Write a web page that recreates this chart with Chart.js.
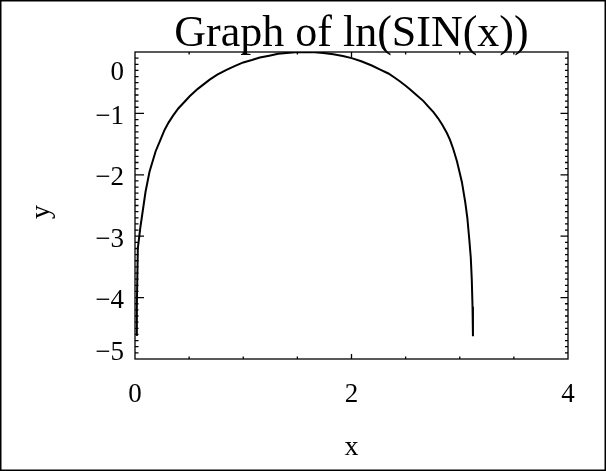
<!DOCTYPE html>
<html>
<head>
<meta charset="utf-8">
<title>Graph of ln(SIN(x))</title>
<script src="https://cdn.jsdelivr.net/npm/chart.js@4.4.0/dist/chart.umd.min.js"></script>
<style>
  html, body { margin: 0; padding: 0; background: #fff; }
  canvas { display: block; }
</style>
</head>
<body>
<canvas id="myChart" width="606" height="471"></canvas>
<script>
// Curve points
var xValues = [0.01, 0.017, 0.026, 0.05, 0.097, 0.134, 0.19, 0.23, 0.273, 0.31, 0.35, 0.40,
    0.458, 0.505, 0.58, 0.69, 0.76, 0.845, 0.92, 1.0, 1.08, 1.153, 1.24, 1.322, 1.40, 1.48,
    1.57, 1.66, 1.74, 1.832, 1.92, 2.002, 2.09, 2.187, 2.27, 2.341, 2.40, 2.449, 2.50, 2.542,
    2.60, 2.665, 2.71, 2.757, 2.80, 2.84, 2.881, 2.91, 2.94, 2.974, 3.00, 3.02, 3.051, 3.07,
    3.088, 3.102, 3.111, 3.118, 3.122];
var yValues = [-4.61, -4.15, -3.20, -2.85, -2.28, -1.95, -1.62, -1.45, -1.27, -1.15, -1.04, -0.92,
    -0.81, -0.72, -0.60, -0.45, -0.37, -0.29, -0.23, -0.17, -0.13, -0.09, -0.06, -0.03, -0.015, -0.004,
    0.0, -0.004, -0.015, -0.035, -0.065, -0.10, -0.15, -0.22, -0.29, -0.35, -0.42, -0.48, -0.55, -0.61,
    -0.70, -0.80, -0.89, -0.98, -1.08, -1.19, -1.32, -1.43, -1.58, -1.78, -1.97, -2.12, -2.45, -2.70,
    -3.05, -3.35, -3.70, -4.15, -4.63];

var xTickLabels = [0, 2, 4];
var yTickLabels = [0, -1, -2, -3, -4, -5];

var chartTitle = 'Graph of ln(SIN(x))';
var xAxisTitle = 'x';
var yAxisTitle = 'y';

var serif = '"Liberation Serif", "DejaVu Serif", serif';

// IDL style box: frame, inward ticks, y labels, titles and outer border
var idlFrame = {
    id: 'idlFrame',
    afterDraw: function(chart) {
        var ctx = chart.ctx;
        var area = chart.chartArea;
        var xs = chart.scales.x;
        var ys = chart.scales.y;
        var i, p, len;

        ctx.save();
        ctx.strokeStyle = '#000';
        ctx.fillStyle = '#000';

        // plot frame
        ctx.lineWidth = 1.3;
        ctx.strokeRect(area.left, area.top, area.right - area.left, area.bottom - area.top);

        // y ticks every 0.1, long ones on whole numbers
        ctx.beginPath();
        for (i = 1; i < 50; i++) {
            p = ys.getPixelForValue(-5 + i / 10);
            var major = (i % 10 === 0);
            len = major ? 9 : 3.5;
            ctx.moveTo(area.left, p);
            ctx.lineTo(area.left + len, p);
            len = major ? 7.5 : 3;
            ctx.moveTo(area.right, p);
            ctx.lineTo(area.right - len, p);
        }
        // x ticks every 0.5, long one on labelled values
        for (i = 1; i < 8; i++) {
            var v = i * 0.5;
            p = xs.getPixelForValue(v);
            len = xTickLabels.indexOf(v) >= 0 ? 5 : 2.5;
            ctx.moveTo(p, area.bottom);
            ctx.lineTo(p, area.bottom - len);
            ctx.moveTo(p, area.top);
            ctx.lineTo(p, area.top + len);
        }
        ctx.stroke();

        // y labels, kept inside the box like the reference
        ctx.font = '27px ' + serif;
        ctx.textAlign = 'right';
        ctx.textBaseline = 'alphabetic';
        yTickLabels.forEach(function(v) {
            var py = ys.getPixelForValue(v);
            py = Math.min(Math.max(py, area.top + 17), area.bottom - 10) + 1.5;
            var txt = v < 0 ? '\u2212' + Math.abs(v) : String(v);
            ctx.fillText(txt, 124, py + 9);
        });

        // title
        ctx.textAlign = 'center';
        ctx.font = '44px ' + serif;
        ctx.fillText(chartTitle, (area.left + area.right) / 2, 46);

        // axis titles
        ctx.font = '28px ' + serif;
        ctx.fillText(xAxisTitle, (area.left + area.right) / 2, 455);
        ctx.save();
        ctx.translate(49, 212);
        ctx.rotate(-Math.PI / 2);
        ctx.fillText(yAxisTitle, 0, 0);
        ctx.restore();

        // outer border of the picture
        ctx.lineWidth = 1.5;
        ctx.strokeRect(0.75, 0.75, chart.width - 1.5, chart.height - 1.5);
        ctx.restore();
    }
};

function drawChart() {
    var points = [];
    for (var i = 0; i < xValues.length; i++) {
        points.push({x: xValues[i], y: yValues[i]});
    }

    var ctx = document.getElementById('myChart').getContext('2d');
    var myChart = new Chart(ctx, {
        type: 'line',
        data: {
            datasets: [{
                data: points,
                borderColor: '#000',
                borderWidth: 2,
                pointRadius: 0,
                fill: false,
                tension: 0
            }]
        },
        options: {
            responsive: false,
            animation: false,
            devicePixelRatio: 1,
            layout: {
                padding: {left: 135, right: 38, top: 52, bottom: 0}
            },
            plugins: {
                legend: {display: false},
                tooltip: {enabled: false},
                title: {display: false}
            },
            scales: {
                x: {
                    type: 'linear',
                    min: 0,
                    max: 4,
                    afterBuildTicks: function(scale) {
                        scale.ticks = xTickLabels.map(function(v) { return {value: v}; });
                    },
                    afterFit: function(scale) {
                        scale.height = 112;
                    },
                    grid: {display: false, drawTicks: false},
                    border: {display: false},
                    ticks: {
                        color: '#000',
                        padding: 20,
                        maxRotation: 0,
                        autoSkip: false,
                        font: {family: serif, size: 27}
                    }
                },
                y: {
                    type: 'linear',
                    min: -5,
                    max: 0,
                    display: false
                }
            }
        },
        plugins: [idlFrame]
    });
}

drawChart();
</script>
</body>
</html>
